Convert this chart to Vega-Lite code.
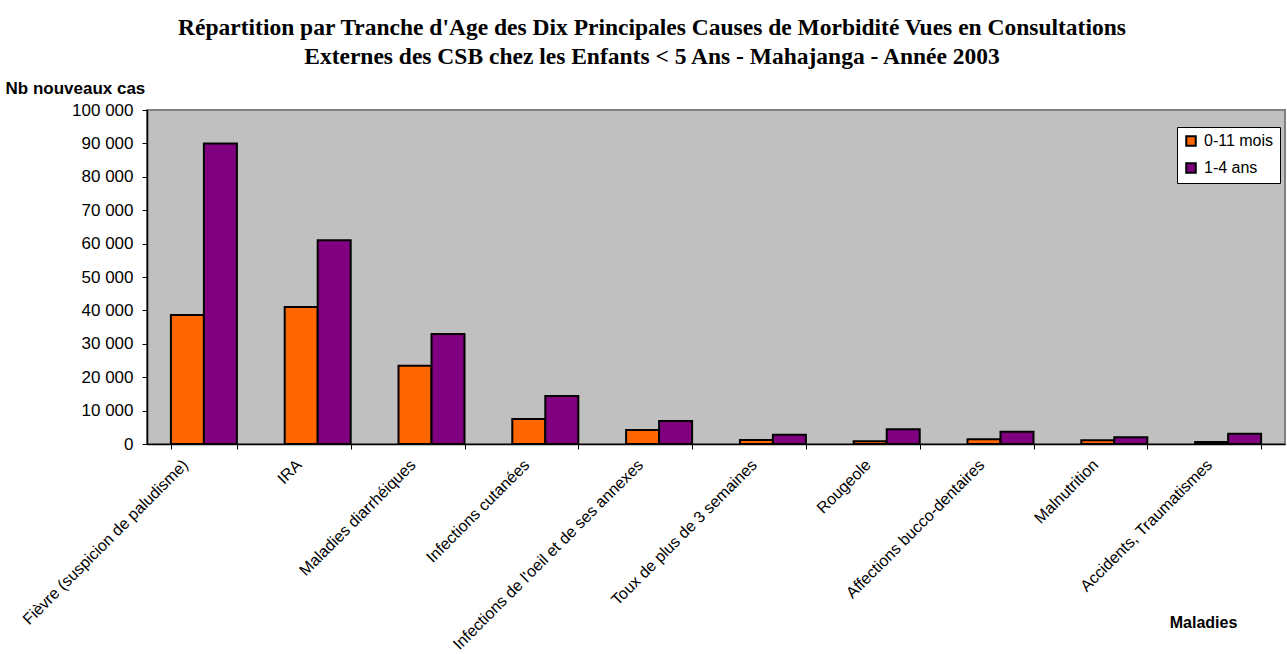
{
  "$schema": "https://vega.github.io/schema/vega-lite/v6.json",
  "autosize": {"type": "none"},
  "padding": {"left": 147, "top": 110, "right": 2, "bottom": 210},
  "width": 1138,
  "height": 334,
  "background": "white",
  "title": {
    "text": ["Répartition par Tranche d'Age des Dix Principales Causes de Morbidité Vues en Consultations", "Externes des CSB chez les Enfants < 5 Ans - Mahajanga - Année 2003"],
    "font": "Liberation Serif",
    "fontSize": 23.5,
    "fontWeight": "bold",
    "color": "black",
    "anchor": "middle",
    "frame": "group",
    "lineHeight": 29,
    "dx": -64,
    "offset": 11
  },
  "data": {
    "values": [
      {"cause": "Fièvre (suspicion de paludisme)", "age": "0-11 mois", "cas": 38600},
      {"cause": "Fièvre (suspicion de paludisme)", "age": "1-4 ans", "cas": 90000},
      {"cause": "IRA", "age": "0-11 mois", "cas": 41000},
      {"cause": "IRA", "age": "1-4 ans", "cas": 61000},
      {"cause": "Maladies diarrhéiques", "age": "0-11 mois", "cas": 23400},
      {"cause": "Maladies diarrhéiques", "age": "1-4 ans", "cas": 32900},
      {"cause": "Infections cutanées", "age": "0-11 mois", "cas": 7500},
      {"cause": "Infections cutanées", "age": "1-4 ans", "cas": 14400},
      {"cause": "Infections de l'oeil et de ses annexes", "age": "0-11 mois", "cas": 4200},
      {"cause": "Infections de l'oeil et de ses annexes", "age": "1-4 ans", "cas": 6900},
      {"cause": "Toux de plus de 3 semaines", "age": "0-11 mois", "cas": 1200},
      {"cause": "Toux de plus de 3 semaines", "age": "1-4 ans", "cas": 2800},
      {"cause": "Rougeole", "age": "0-11 mois", "cas": 800},
      {"cause": "Rougeole", "age": "1-4 ans", "cas": 4400},
      {"cause": "Affections bucco-dentaires", "age": "0-11 mois", "cas": 1400},
      {"cause": "Affections bucco-dentaires", "age": "1-4 ans", "cas": 3700},
      {"cause": "Malnutrition", "age": "0-11 mois", "cas": 1100},
      {"cause": "Malnutrition", "age": "1-4 ans", "cas": 2000},
      {"cause": "Accidents, Traumatismes", "age": "0-11 mois", "cas": 600},
      {"cause": "Accidents, Traumatismes", "age": "1-4 ans", "cas": 3100}
    ]
  },
  "mark": {"type": "bar", "stroke": "black", "strokeWidth": 2, "strokeJoin": "miter"},
  "encoding": {
    "x": {
      "field": "cause",
      "type": "nominal",
      "sort": null,
      "scale": {"paddingInner": 0.42, "paddingOuter": 0.21},
      "axis": {
        "title": "Maladies",
        "titleFont": "Liberation Sans",
        "titleFontSize": 16,
        "titleFontWeight": "bold",
        "titleColor": "black",
        "titleX": 1056,
        "titleY": 178,
        "titleAlign": "center",
        "titleBaseline": "middle",
        "labelAngle": -45,
        "labelAlign": "right",
        "labelBaseline": "middle",
        "labelFont": "Liberation Sans",
        "labelFontSize": 16,
        "labelColor": "black",
        "labelPadding": 13,
        "labelOffset": -19,
        "labelLimit": 400,
        "tickBand": "extent",
        "tickSize": 5,
        "tickColor": "black",
        "domainColor": "black",
        "domainWidth": 1.5
      }
    },
    "xOffset": {"field": "age", "type": "nominal", "sort": ["0-11 mois", "1-4 ans"], "scale": {"paddingInner": 0, "paddingOuter": 0}},
    "y": {
      "field": "cas",
      "type": "quantitative",
      "scale": {"domain": [0, 100000], "nice": false},
      "axis": {
        "title": "Nb nouveaux cas",
        "titleFont": "Liberation Sans",
        "titleFontSize": 17,
        "titleFontWeight": "bold",
        "titleColor": "black",
        "titleAngle": 0,
        "titleX": -142,
        "titleY": -13,
        "titleAlign": "left",
        "titleBaseline": "bottom",
        "values": [0, 10000, 20000, 30000, 40000, 50000, 60000, 70000, 80000, 90000, 100000],
        "labelExpr": "replace(format(datum.value, ','), ',', ' ')",
        "labelFont": "Liberation Sans",
        "labelFontSize": 17,
        "labelColor": "black",
        "labelPadding": 9,
        "grid": false,
        "tickSize": 5,
        "tickColor": "black",
        "domainColor": "black",
        "domainWidth": 1.5
      }
    },
    "fill": {
      "field": "age",
      "type": "nominal",
      "scale": {"domain": ["0-11 mois", "1-4 ans"], "range": ["#FF6600", "#800080"]},
      "legend": {
        "title": null,
        "orient": "none",
        "legendX": 1030,
        "legendY": 17,
        "fillColor": "white",
        "strokeColor": "black",
        "padding": 6,
        "symbolType": "square",
        "symbolSize": 90,
        "symbolStrokeColor": "black",
        "symbolStrokeWidth": 2,
        "labelFont": "Liberation Sans",
        "labelFontSize": 16,
        "labelColor": "black",
        "rowPadding": 9,
        "labelOffset": 5
      }
    }
  },
  "config": {
    "view": {"fill": "#C0C0C0", "stroke": "#808080", "strokeWidth": 2}
  }
}
